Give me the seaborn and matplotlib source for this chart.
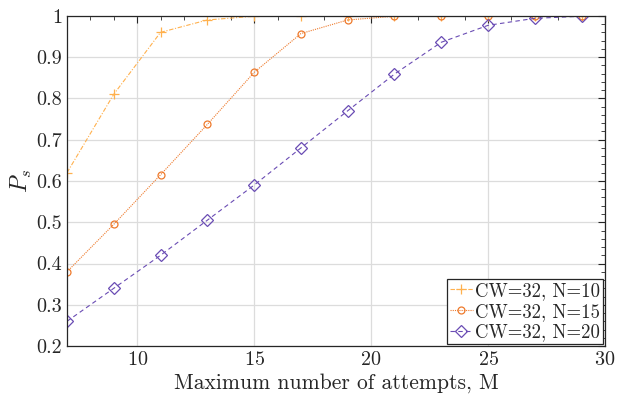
import matplotlib
matplotlib.use("Agg")
import matplotlib.pyplot as plt
import seaborn as sns
import pandas as pd
from matplotlib.ticker import MultipleLocator

# Data
attempts = [7, 9, 11, 13, 15, 17, 19, 21, 23, 25, 27, 29]
ps_n10 = [0.62, 0.81, 0.96, 0.99, 0.999, 1.0, 1.0, 1.0, 1.0, 1.0, 1.0, 1.0]
ps_n15 = [0.38, 0.495, 0.615, 0.737, 0.863, 0.957, 0.99, 0.999, 1.0, 1.0, 1.0, 1.0]
ps_n20 = [0.26, 0.34, 0.42, 0.505, 0.59, 0.68, 0.77, 0.859, 0.936, 0.977, 0.994, 0.999]
labels = ["CW=32, N=10", "CW=32, N=15", "CW=32, N=20"]
x_ticks = [10, 15, 20, 25, 30]
y_ticks = [0.2, 0.3, 0.4, 0.5, 0.6, 0.7, 0.8, 0.9, 1.0]

sns.set_theme(style="white")
plt.rcParams["font.family"] = ["cmr10", "DejaVu Serif"]
plt.rcParams["mathtext.fontset"] = "cm"
plt.rcParams["axes.formatter.use_mathtext"] = True
plt.rcParams["axes.unicode_minus"] = False

fig = plt.figure(figsize=(6.26, 3.96), dpi=100)
ax = fig.add_axes([0.107, 0.126, 0.8595, 0.834])

series = [
    (ps_n10, "#FFB14E", "+", (0, (4, 1.5, 1, 1.5)), dict(markersize=6.5, markeredgewidth=0.9)),
    (ps_n15, "#EE7A2C", "o", (0, (1, 1)), dict(markersize=5, markerfacecolor="none", markeredgewidth=0.9)),
    (ps_n20, "#6A4CB4", "D", (0, (4, 3)), dict(markersize=6.5, markerfacecolor="none", markeredgewidth=0.9)),
]
for (vals, col, mk, ls, kw), lab in zip(series, labels):
    df = pd.DataFrame({"M": attempts, "Ps": vals})
    sns.lineplot(data=df, x="M", y="Ps", ax=ax, color=col, marker=mk,
                 linestyle=ls, linewidth=0.8, label=lab,
                 markeredgecolor=col, **kw)

ax.set_xlim(7, 30)
ax.set_ylim(0.2, 1.0)
ax.set_xticks(x_ticks)
ax.set_yticks(y_ticks)
ax.set_yticklabels(["0.2", "0.3", "0.4", "0.5", "0.6", "0.7", "0.8", "0.9", "1"])
ax.xaxis.set_minor_locator(MultipleLocator(1))
ax.yaxis.set_minor_locator(MultipleLocator(0.02))
ax.grid(True, which="major", color="#DCDCDC", linewidth=0.9)
ax.tick_params(which="both", direction="in", top=True, right=True,
               labelsize=14.5, colors="#262626", labelcolor="#262626")
ax.tick_params(which="major", length=5, width=0.8)
ax.tick_params(which="minor", length=3, width=0.6)
for s in ax.spines.values():
    s.set_color("#262626")
    s.set_linewidth(0.9)

ax.set_xlabel("Maximum number of attempts, M", fontsize=15.5, color="#262626", labelpad=3)
ax.set_ylabel("$P_s$", fontsize=17, color="#262626", labelpad=2)

leg = ax.legend(loc="lower right", fontsize=13.5, frameon=True, fancybox=False,
                borderpad=0.15, handlelength=1.2, handletextpad=0.15,
                labelspacing=0.15, borderaxespad=0.1)
leg.get_frame().set_edgecolor("#262626")
leg.get_frame().set_linewidth(0.9)
leg.get_frame().set_alpha(1)

fig.savefig("out.png", dpi=100)
